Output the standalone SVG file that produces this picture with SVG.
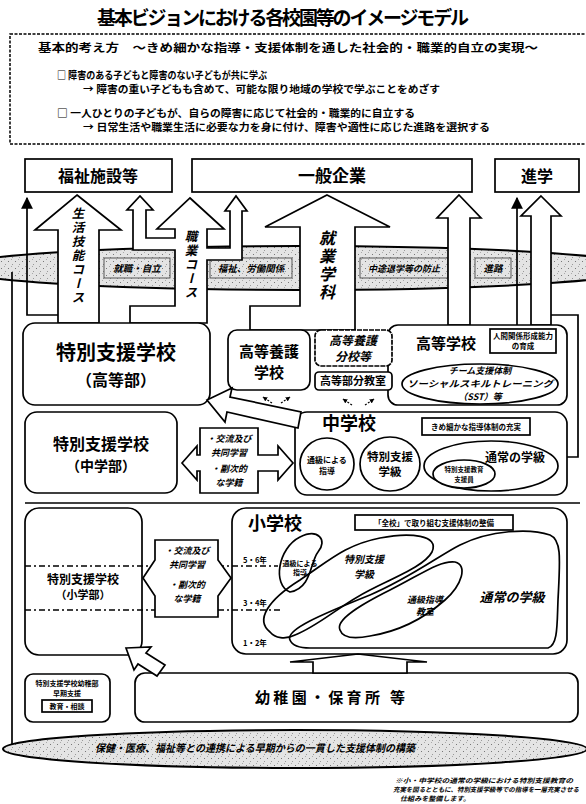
<svg xmlns="http://www.w3.org/2000/svg" width="586" height="804" viewBox="0 0 586 804">
<defs>
<pattern id="dots" width="7" height="7" patternUnits="userSpaceOnUse">
<rect width="7" height="7" fill="#e4e4e4"/>
<rect x="1" y="2" width="1" height="1" fill="#777"/>
<rect x="5" y="5" width="1" height="1" fill="#999"/>
<rect x="4" y="0" width="1" height="1" fill="#aaa"/>
</pattern>
<marker id="ah" viewBox="0 0 10 10" refX="9" refY="5" markerWidth="7" markerHeight="7" orient="auto">
<path d="M0,0 L10,5 L0,10 Z" fill="#000"/>
</marker>
<marker id="sh" viewBox="0 0 10 10" refX="9" refY="5" markerWidth="4" markerHeight="4" orient="auto">
<path d="M0,0 L10,5 L0,10 Z" fill="#000"/>
</marker>
<style>
.t{font-family:"Noto Sans CJK JP","Noto Sans",sans-serif;font-weight:bold;fill:#000}
.c{text-anchor:middle}
.i{font-style:italic}
.bx{fill:#fff;stroke:#000;stroke-width:1.7}
.ln{fill:none;stroke:#000;stroke-width:1.7}
.ar{fill:#fff;stroke:#000;stroke-width:1.7;stroke-linejoin:miter}
.lab{fill:url(#dots);stroke:#333;stroke-width:0.8}
.v{writing-mode:vertical-rl}
.dd{fill:none;stroke:#000;stroke-width:1.4;stroke-dasharray:6 3 2 3}
.sd{fill:none;stroke:#000;stroke-width:1.2;stroke-dasharray:2 1.5}
</style>
</defs>
<rect width="586" height="804" fill="#fff"/>

<g id="title">
<text class="t c" x="283" y="25" font-size="19" textLength="372" lengthAdjust="spacing">基本ビジョンにおける各校園等のイメージモデル</text>
</g>

<g id="basic">
<rect x="10" y="34" width="590" height="110" fill="none" stroke="#000" stroke-width="1.5" stroke-dasharray="3 1.5"/>
<text class="t" x="38" y="52" font-size="11" textLength="500" lengthAdjust="spacingAndGlyphs">基本的考え方　～きめ細かな指導・支援体制を通した社会的・職業的自立の実現～</text>
<text class="t" x="57" y="79" font-size="10" textLength="210" lengthAdjust="spacingAndGlyphs">□ 障害のある子どもと障害のない子どもが共に学ぶ</text>
<text class="t" x="83" y="93" font-size="10" textLength="357" lengthAdjust="spacingAndGlyphs">→ 障害の重い子どもも含めて、可能な限り地域の学校で学ぶことをめざす</text>
<text class="t" x="57" y="117" font-size="10" textLength="358" lengthAdjust="spacingAndGlyphs">□ 一人ひとりの子どもが、自らの障害に応じて社会的・職業的に自立する</text>
<text class="t" x="83" y="131" font-size="10" textLength="407" lengthAdjust="spacingAndGlyphs">→ 日常生活や職業生活に必要な力を身に付け、障害や適性に応じた進路を選択する</text>
</g>

<g id="fukushi"><rect class="bx" x="25" y="159" width="147" height="33"/><text class="t c" x="98" y="182" font-size="16">福祉施設等</text></g>
<g id="kigyo"><rect class="bx" x="192" y="159" width="280" height="33"/><text class="t c" x="332" y="182" font-size="17">一般企業</text></g>
<g id="shingaku"><rect class="bx" x="495" y="159" width="84" height="33"/><text class="t c" x="537" y="182" font-size="16">進学</text></g>

<g id="band">
<ellipse cx="298" cy="268" rx="345" ry="22" fill="url(#dots)" stroke="#000" stroke-width="2"/>
<rect class="lab" x="104" y="258" width="66" height="20"/><text class="t c i" x="137" y="272" font-size="9.5">就職・自立</text>
<rect class="lab" x="210" y="258" width="82" height="20"/><text class="t c i" x="251" y="272" font-size="9.5">福祉、労働関係</text>
<rect class="lab" x="360" y="258" width="88" height="20"/><text class="t c i" x="404" y="272" font-size="9">中途退学等の防止</text>
<rect class="lab" x="475" y="258" width="36" height="20"/><text class="t c i" x="493" y="272" font-size="9.5">進路</text>
</g>

<g id="connectors">
<line class="ln" x1="12" y1="272" x2="12" y2="746"/>
<polyline class="ln" points="58,315 27,315 27,198" marker-end="url(#ah)"/>
<path class="ar" d="M77,195 L121,230 L99,230 L99,323 L58,323 L58,230 L35,230 Z"/>
<path class="ar" d="M190,198 L224,229 L207,229 L207,248 L230,248 L230,211 L225,211 L236,196 L247,211 L242,211 L242,260 L207,260 L207,323 L130,323 L130,306 L175,306 L175,250 L133,250 L133,210 L127,210 L140,196 L153,210 L146,210 L146,238 L175,238 L175,229 L157,229 Z"/>
<path class="ar" d="M327,195 L390,227 L355,227 L355,330 L250,330 L250,306 L300,306 L300,227 L265,227 Z"/>
<path class="ar" d="M459,195 L481,218 L470,218 L470,325 L448,325 L448,218 L437,218 Z"/>
<line class="ln" x1="517" y1="325" x2="517" y2="198" marker-end="url(#ah)"/>
<path class="ar" d="M541,196 L561,216 L551,216 L551,325 L531,325 L531,216 L521,216 Z"/>
<polyline class="ln" points="551,315 578,315 578,457 567,457"/>
<text class="t i v" x="78" y="207" font-size="12.5" letter-spacing="1.5">生活技能コース</text>
<text class="t i v" x="191" y="230" font-size="12.5" letter-spacing="1.5">職業コース</text>
<text class="t i v" x="327" y="230" font-size="16" letter-spacing="2">就業学科</text>
<line class="ln" x1="25" y1="503" x2="580" y2="503"/>
</g>

<g id="koutoubu"><rect class="bx" x="23" y="323" width="187" height="82" rx="12"/>
<text class="t c" x="116" y="360" font-size="20">特別支援学校</text>
<text class="t c" x="116" y="386" font-size="16">（高等部）</text></g>

<g id="kouyou"><rect class="bx" x="228" y="330" width="82" height="60" rx="9"/>
<text class="t c" x="269" y="357" font-size="15">高等養護</text>
<text class="t c" x="269" y="378" font-size="15">学校</text></g>

<g id="koukou"><rect class="bx" x="388" y="325" width="179" height="80" rx="10"/>
<text class="t c" x="446" y="349" font-size="15">高等学校</text>
<rect class="bx" x="490" y="329" width="66" height="24" stroke-width="1.4"/>
<text class="t c" x="523" y="339" font-size="7.5">人間関係形成能力</text>
<text class="t c" x="523" y="349" font-size="7.5">の育成</text>
<ellipse class="bx" cx="480" cy="384" rx="78" ry="20"/>
<text class="t c i" x="480" y="374" font-size="9">チーム支援体制</text>
<text class="t c i" x="480" y="387" font-size="9" textLength="146" lengthAdjust="spacingAndGlyphs">ソーシャルスキルトレーニング</text>
<text class="t c i" x="480" y="400" font-size="9">（SST）等</text></g>

<g id="bunkou"><rect class="bx" x="315" y="330" width="77" height="36" rx="6" stroke-dasharray="5 1"/>
<text class="t c i" x="353" y="345" font-size="12">高等養護</text>
<text class="t c i" x="353" y="361" font-size="12">分校等</text></g>

<g id="bunkyoushitsu"><rect class="bx" x="315" y="372" width="77" height="18" rx="4"/>
<text class="t c" x="353" y="385" font-size="11">高等部分教室</text></g>

<g id="transfer">
<line class="sd" x1="272" y1="403" x2="263" y2="397" marker-end="url(#sh)"/>
<line class="sd" x1="281" y1="403" x2="290" y2="397" marker-end="url(#sh)"/>
<line class="sd" x1="352" y1="405" x2="343" y2="399" marker-end="url(#sh)"/>
<line class="sd" x1="365" y1="405" x2="374" y2="399" marker-end="url(#sh)"/>
</g>

<g id="chuugakkou"><rect class="bx" x="295" y="412" width="272" height="83" rx="12"/>
<text class="t" x="322" y="430" font-size="18">中学校</text>
<rect class="bx" x="422" y="418" width="108" height="17" stroke-width="1.4"/>
<text class="t c" x="476" y="430" font-size="7.5">きめ細かな指導体制の充実</text>
<ellipse class="bx" cx="327" cy="464" rx="27" ry="26"/>
<text class="t c" x="327" y="463" font-size="8">通級による</text>
<text class="t c" x="327" y="474" font-size="8">指導</text>
<ellipse class="bx" cx="390" cy="464" rx="30" ry="27"/>
<text class="t c" x="390" y="461" font-size="11.5">特別支援</text>
<text class="t c" x="390" y="476" font-size="11.5">学級</text>
<ellipse class="bx" cx="491" cy="466" rx="67" ry="25"/>
<text class="t c" x="515" y="462" font-size="12">通常の学級</text>
<ellipse class="bx" cx="464" cy="474" rx="31" ry="14"/>
<text class="t c" x="464" y="472" font-size="6.5">特別支援教育</text>
<text class="t c" x="464" y="482" font-size="6.5">支援員</text></g>

<g id="arrow-up"><path class="ar" d="M207,400 L232,388 L230,397 L301,412 L298,428 L227,412 L225,422 Z"/></g>

<g id="chuugakubu"><rect class="bx" x="25" y="412" width="152" height="81" rx="12"/>
<text class="t c" x="101" y="450" font-size="16">特別支援学校</text>
<text class="t c" x="101" y="471" font-size="14">（中学部）</text></g>

<g id="kouryuu-chu"><path class="ar" d="M182,463 L197,446 L197,455 L200,455 L200,428 L258,428 L258,455 L278,455 L278,446 L293,463 L278,480 L278,471 L258,471 L258,493 L200,493 L200,471 L197,471 L197,480 Z"/>
<text class="t c i" x="229" y="442" font-size="9">・交流及び</text>
<text class="t c i" x="229" y="456" font-size="9">共同学習</text>
<text class="t c i" x="229" y="472" font-size="9">・副次的</text>
<text class="t c i" x="229" y="486" font-size="9">な学籍</text></g>

<g id="shougakubu"><rect class="bx" x="25" y="508" width="117" height="147" rx="14"/>
<text class="t c" x="83" y="584" font-size="12">特別支援学校</text>
<text class="t c" x="83" y="599" font-size="11">（小学部）</text></g>

<g id="shougakkou"><rect class="bx" x="232" y="508" width="335" height="146" rx="14"/>
<text class="t" x="248" y="530" font-size="18">小学校</text>
<rect class="bx" x="355" y="515" width="158" height="15" stroke-width="1.4"/>
<text class="t c" x="434" y="526" font-size="7.5">「全校」で取り組む支援体制の整備</text>
<path class="ln" d="M290,640 C285,630 320,615 370,595 C410,578 440,555 460,545 C490,530 530,528 550,535 C562,540 560,560 558,600 C557,625 558,645 548,648 L310,648 C298,648 292,645 290,640 Z"/>
<path class="ln" d="M270,632 C255,620 268,600 300,580 C330,560 345,545 380,538 C410,532 440,535 432,552 C425,565 400,575 370,590 C340,605 320,625 295,635 C285,640 275,638 270,632 Z"/>
<path class="ln" d="M340,630 C335,620 360,605 390,590 C420,575 440,560 455,562 C468,565 462,585 445,600 C420,622 395,632 370,636 C350,640 342,636 340,630 Z"/>
<path class="ln" d="M290,592 C272,585 278,548 300,537 C318,528 328,540 318,552 C310,562 312,588 290,592 Z"/>
<text class="t c" x="300" y="566" font-size="7">通級による</text>
<text class="t c" x="300" y="575" font-size="7">指導</text>
<text class="t c i" x="364" y="563" font-size="10">特別支援</text>
<text class="t c i" x="364" y="578" font-size="10">学級</text>
<text class="t c i" x="425" y="603" font-size="9">通級指導</text>
<text class="t c i" x="425" y="615" font-size="9">教室</text>
<text class="t c i" x="512" y="602" font-size="13">通常の学級</text>
<text class="t" x="243" y="563" font-size="7.5">5・6年</text>
<text class="t" x="243" y="606" font-size="7.5">3・4年</text>
<text class="t" x="243" y="646" font-size="7.5">1・2年</text>
</g>

<g id="grades">
<line class="dd" x1="25" y1="566" x2="155" y2="566"/>
<line class="dd" x1="218" y1="566" x2="278" y2="566"/>
<line class="dd" x1="25" y1="610" x2="155" y2="610"/>
<line class="dd" x1="218" y1="610" x2="282" y2="610"/>
</g>

<g id="kouryuu-sho"><path class="ar" d="M143,578 L155,560 L155,540 L218,540 L218,560 L231,578 L218,596 L218,617 L155,617 L155,596 Z"/>
<text class="t c i" x="187" y="554" font-size="9">・交流及び</text>
<text class="t c i" x="187" y="568" font-size="9">共同学習</text>
<text class="t c i" x="187" y="588" font-size="9">・副次的</text>
<text class="t c i" x="187" y="602" font-size="9">な学籍</text></g>

<g id="youchibu"><rect class="bx" x="25" y="674" width="85" height="48" rx="8"/>
<text class="t c" x="67" y="686" font-size="7">特別支援学校幼稚部</text>
<text class="t c" x="67" y="696" font-size="7">早期支援</text>
<rect class="bx" x="42" y="700" width="50" height="12" stroke-width="1.6"/>
<text class="t c" x="67" y="709" font-size="7">教育・相談</text></g>

<g id="youchien"><rect class="bx" x="135" y="673" width="443" height="49" rx="10"/>
<text class="t c" x="330" y="703" font-size="15" textLength="150" lengthAdjust="spacing">幼稚園・保育所 等</text></g>

<g id="arrows-low">
<path class="ar" d="M290,662 L358,654 L427,662 L407,662 L407,673 L313,673 L313,662 Z"/>
<path class="ar" d="M126,648 L151,647 L146,653 L165,665 L157,676 L138,664 L134,670 Z"/>
</g>

<g id="renkei">
<ellipse cx="295" cy="749" rx="292" ry="19" fill="url(#dots)" stroke="#000" stroke-width="2"/>
<text class="t i" x="95" y="752" font-size="10.5" textLength="320" lengthAdjust="spacingAndGlyphs">保健・医療、福祉等との連携による早期からの一貫した支援体制の構築</text>
</g>

<g id="note">
<text class="t i" x="395" y="783" font-size="6.5" textLength="178" lengthAdjust="spacingAndGlyphs">※小・中学校の通常の学級における特別支援教育の</text>
<text class="t i" x="393" y="792" font-size="6.5" textLength="186" lengthAdjust="spacingAndGlyphs">充実を図るとともに、特別支援学級等での指導を一層充実させる</text>
<text class="t i" x="400" y="801" font-size="6.5" textLength="70" lengthAdjust="spacingAndGlyphs">仕組みを整備します。</text>
</g>
</svg>
